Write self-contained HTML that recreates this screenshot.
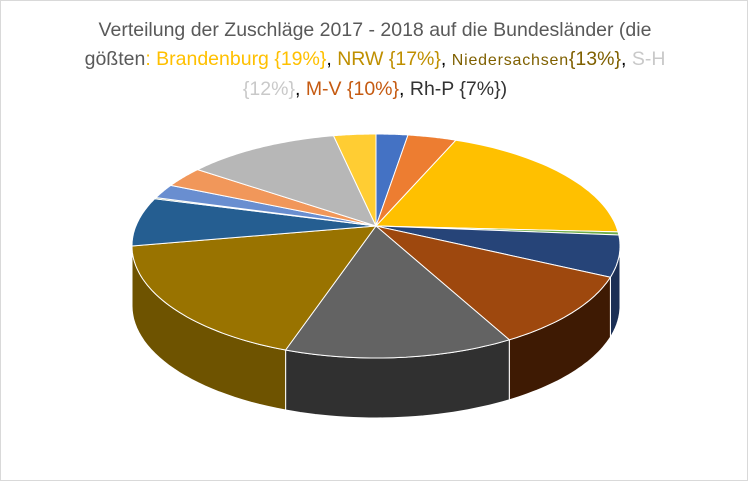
<!DOCTYPE html>
<html><head><meta charset="utf-8"><style>
html,body{margin:0;padding:0;background:#fff}
#c{position:relative;width:746px;height:479px;border:1px solid #d9d9d9;overflow:hidden}
#t{position:absolute;left:0;top:15px;width:748px;text-align:center;font-family:"Liberation Sans",sans-serif;font-size:19.5px;line-height:28.5px;color:#595959;letter-spacing:0px}
svg{position:absolute;left:0;top:0}
</style></head><body><div id="c">
<div id="t">Verteilung der Zuschläge 2017 - 2018 auf die Bundesländer (die<br>gößten<span style="color:#ffc000">: Brandenburg {19%}</span><span style="color:#000">,</span> <span style="color:#bf8f00">NRW {17%}</span><span style="color:#000">,</span> <span style="color:#7f6000;font-size:16px;letter-spacing:0.8px">Niedersachsen</span><span style="color:#7f6000">{13%}</span><span style="color:#000">,</span> <span style="color:#c9c9c9">S-H<br>{12%}</span><span style="color:#000">,</span> <span style="color:#c55a11">M-V {10%}</span><span style="color:#000">,</span> <span style="color:#333">Rh-P {7%})</span></div>
<svg id="s" width="748" height="481"></svg>
</div>
<script>
(function(){
var cx=375,cy=245,rx=244,ry=112,ax=375,ay=225,D=60;
var pts=[[375,133],[407,134],[455,139],[616,231],[617,234],[608,276],[510,340],[282,352],[131,245],[155,198],[157,197],[172,185],[200,170],[333,136]];
var cols=["#4472c4","#ed7d31","#ffc000","#70ad47","#264478","#9e480e","#636363","#997300","#255e91","#43682b","#698ed0","#f1975a","#b7b7b7","#ffcd33"];
var side={"#264478":"#1b2f55","#9e480e":"#3e1a03","#636363":"#303030","#997300":"#6e5300","#255e91":"#163c5e"};
var ang=pts.map(function(p){return Math.atan2((p[1]-cy)/ry,(p[0]-cx)/rx);});
function P(t,d){return [cx+rx*Math.cos(t),cy+ry*Math.sin(t)+(d||0)];}
var h='';
var n=ang.length,i,k,a,b,d,p;
for(i=0;i<n;i++){a=ang[i];b=ang[(i+1)%n];if(b<a)b+=2*Math.PI;
 var s=Math.max(a,0),e=Math.min(b,Math.PI);
 if(e>s){d='M';var N=30;for(k=0;k<=N;k++){p=P(s+(e-s)*k/N);d+=(k?' L':'')+p[0].toFixed(1)+' '+p[1].toFixed(1);}
 for(k=N;k>=0;k--){p=P(s+(e-s)*k/N,D);d+=' L'+p[0].toFixed(1)+' '+p[1].toFixed(1);}
 h+='<path d="'+d+'Z" fill="'+(side[cols[i]]||'#333')+'" stroke="#fff" stroke-width="1"/>';}}
for(i=0;i<n;i++){a=ang[i];b=ang[(i+1)%n];if(b<a)b+=2*Math.PI;
 d='M'+ax+' '+ay;for(k=0;k<=40;k++){p=P(a+(b-a)*k/40);d+=' L'+p[0].toFixed(1)+' '+p[1].toFixed(1);}
 h+='<path d="'+d+'Z" fill="'+cols[i]+'" stroke="#fff" stroke-width="1"/>';}
document.getElementById('s').innerHTML=h;
})();
</script>
</body></html>
